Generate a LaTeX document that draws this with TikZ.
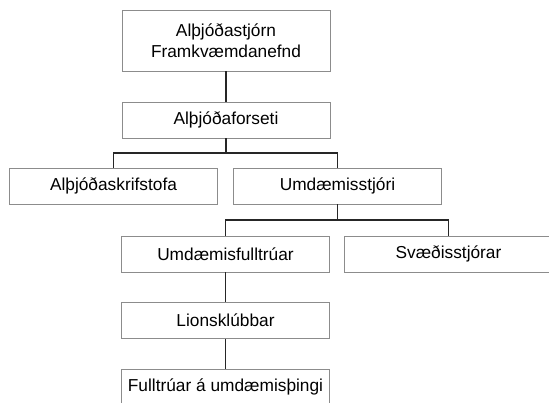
\documentclass[tikz,border=0pt]{standalone}
\usepackage{fontspec}
\setmainfont{Liberation Sans}

\tikzset{
  box/.style={draw=gray!90, line width=0.9pt, fill=white, minimum width=208pt,
    minimum height=36pt, inner sep=0pt, align=center,
    font=\fontsize{17.3}{21}\selectfont},
  wire/.style={black!85, line width=1.2pt}
}

\begin{document}
\begin{tikzpicture}[x=1pt,y=-1pt] % <- pixel units, y downwards
   % Page frame
   \useasboundingbox (0,0) rectangle (549,402);
   \clip (0,0) rectangle (549,402);
   % Boxes
   \node[box, minimum height=61pt] (top) at (226,40.5) {Alþjóðastjórn\\Framkvæmdanefnd};
   \node[box] (forseti) at (226,120) {Alþjóðaforseti};
   \node[box] (skrif) at (113.5,186) {Alþjóðaskrifstofa};
   \node[box] (stjori) at (337.5,186) {Umdæmisstjóri};
   \node[box] (fulltruar) at (225.5,254) {Umdæmisfulltrúar};
   \node[box] (svaedi) at (448.5,254) {Svæðisstjórar};
   \node[box] (lions) at (225.5,320.5) {Lionsklúbbar};
   \node[box] (thing) at (225.5,387) {Fulltrúar á umdæmisþingi};
   % Bus points
   \coordinate (bus1) at (forseti.south |- 0,153);
   \coordinate (bus2) at (stjori.south |- 0,220);
   % Connectors
   \draw[wire] (top) -- (forseti);
   \draw[wire] (forseti.south) -- (bus1);
   \draw[wire] (skrif.north) |- (bus1) -| (stjori.north);
   \draw[wire] (stjori.south) -- (bus2);
   \draw[wire] (fulltruar.north) |- (bus2) -| (svaedi.north);
   \draw[wire] (fulltruar) -- (lions);
   \draw[wire] (lions) -- (thing);
\end{tikzpicture}
\end{document}
